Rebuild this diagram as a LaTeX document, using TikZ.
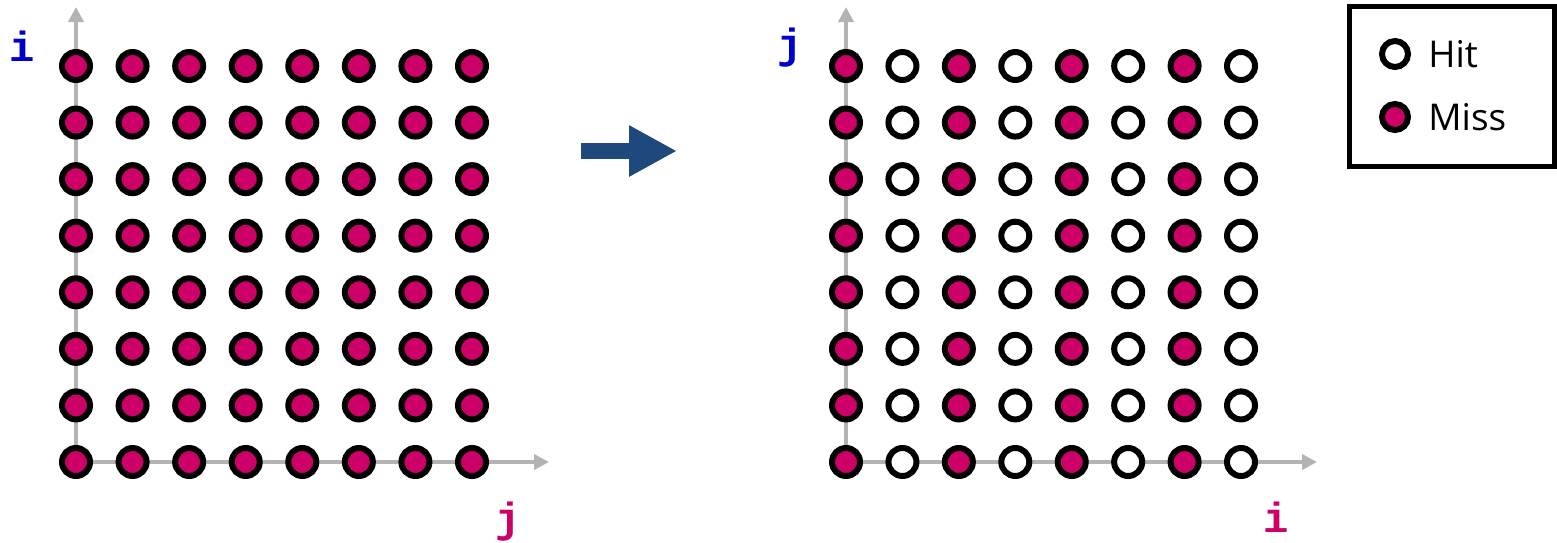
\documentclass[tikz,border=0pt]{standalone}
\usepackage{fontspec}
\setmainfont{Open Sans}
\newfontfamily\codefont{Liberation Mono}
\usetikzlibrary{arrows.meta, positioning}
\definecolor{missred}{RGB}{204,0,102}
\definecolor{axisgray}{RGB}{179,179,179}
\definecolor{arrowblue}{RGB}{31,73,125}
\definecolor{labelblue}{RGB}{0,0,204}
\tikzstyle{miss} = [circle, minimum size=0.56cm, inner sep=0pt, line width=0.12cm, draw=black, fill=missred]
\tikzstyle{hit} = [circle, minimum size=0.56cm, inner sep=0pt, line width=0.12cm, draw=black, fill=white]
\tikzstyle{axis} = [line width=0.08cm, draw=axisgray, -{Triangle[length=0.3cm, width=0.3cm]}]
\tikzstyle{bigarrow} = [line width=0.32cm, draw=arrowblue, -{Triangle[length=0.96cm, width=0.96cm]}]
\tikzstyle{axislabel} = [inner sep=0pt, anchor=base, font=\codefont\bfseries\fontsize{24}{24}\selectfont]
\tikzstyle{legendbox} = [rectangle, draw=black, line width=0.1cm, minimum width=4.1cm, minimum height=3.2cm]
\tikzstyle{legendtext} = [anchor=west, inner sep=0pt, font=\fontsize{21}{25}\selectfont]

\begin{document}
\begin{tikzpicture}[x=0.02cm, y=-0.02cm]
\useasboundingbox (0,0) rectangle (1557,542);

% Axes
\coordinate (lorigin) at (76,462);
\coordinate (ltop) at (76,7);
\coordinate (lright) at (549,462);
\coordinate (rorigin) at (846,462);
\coordinate (rtop) at (846,7);
\coordinate (rright) at (1317,462);
\draw [axis] (lorigin) -- (ltop);
\draw [axis] (lorigin) -- (lright);
\draw [axis] (rorigin) -- (rtop);
\draw [axis] (rorigin) -- (rright);

% Left grid: all misses
\foreach \r in {0,...,7}
  \foreach \c in {0,...,7}
    \node (L-\r-\c) [miss] at ({76+56.57*\c},{66+56.57*\r}) {};

% Right grid: misses and hits alternate by column
\foreach \r in {0,...,7} {
  \foreach \c in {0,2,4,6}
    \node (R-\r-\c) [miss] at ({846+56.43*\c},{66+56.57*\r}) {};
  \foreach \c in {1,3,5,7}
    \node (R-\r-\c) [hit] at ({846+56.43*\c},{66+56.57*\r}) {};
}

% Axis labels
\node (li) [axislabel, text=labelblue] at (22,61) {i};
\node (lj) [axislabel, text=missred] at (508,532) {j};
\node (rj) [axislabel, text=labelblue] at (790,58) {j};
\node (ri) [axislabel, text=missred] at (1276,532) {i};

% Transformation arrow
\coordinate (arrowstart) at (581,151);
\coordinate (arrowend) at (677,151);
\draw [bigarrow] (arrowstart) -- (arrowend);

% Legend
\node (legend) [legendbox] at (1452,86.5) {};
\node (hitdot) [hit, minimum size=0.52cm] at (1395,54) {};
\node (missdot) [miss, minimum size=0.52cm] at (1395,117) {};
\node (hittext) [legendtext, right=0.66cm of hitdot.center] {Hit};
\node (misstext) [legendtext, right=0.66cm of missdot.center] {Miss};

\end{tikzpicture}
\end{document}
